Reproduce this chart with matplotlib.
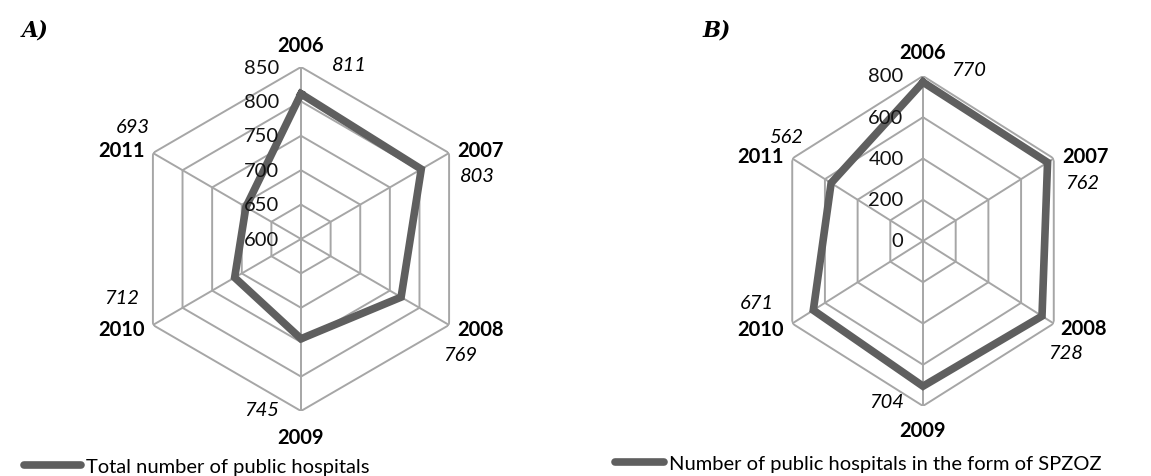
import numpy as np
import matplotlib.pyplot as plt
from matplotlib.lines import Line2D

# data
years = ['2006', '2007', '2008', '2009', '2010', '2011']
total = [811, 803, 769, 745, 712, 693]
spzoz = [770, 762, 728, 704, 671, 562]
ticks_a = [600, 650, 700, 750, 800, 850]
ticks_b = [0, 200, 400, 600, 800]

plt.rcParams['font.family'] = ['Lato', 'DejaVu Sans']

LINE = '#5f5f5f'
GRID = '#a6a6a6'
FS = 14.5

fig = plt.figure(figsize=(11.51, 4.77), dpi=100)

angles = np.deg2rad(np.arange(0, 360, 60))


def radar(rect, values, ticks, tick_dx, cat_off, val_off):
    ax = fig.add_axes(rect, projection='polar')
    ax.set_theta_zero_location('N')
    ax.set_theta_direction(-1)
    ax.set_rlim(ticks[0], ticks[-1])
    ax.grid(False)
    ax.spines['polar'].set_visible(False)
    ax.set_xticks([])
    ax.set_yticks([])
    ax.patch.set_alpha(0)
    ax.set_aspect('auto')
    closed = np.append(angles, angles[0])
    # hexagonal grid
    for t in ticks[1:]:
        ax.plot(closed, [t] * 7, color=GRID, lw=1.4, zorder=1)
    for a in angles:
        ax.plot([a, a], [ticks[0], ticks[-1]], color=GRID, lw=1.4, zorder=1)
    # series
    ax.plot(closed, list(values) + [values[0]], color=LINE, lw=5.5,
            solid_joinstyle='miter', zorder=3)
    # radial tick labels
    for t in ticks:
        ax.annotate(str(t), xy=(0, t), xytext=(tick_dx, 0), textcoords='offset points',
                    ha='right', va='center', fontsize=FS, color='#111111', zorder=4)
    # category + value labels
    for i, a in enumerate(angles):
        cx, cy, cha = cat_off[i]
        vx, vy, vha = val_off[i]
        ax.annotate(years[i], xy=(a, ticks[-1]), xytext=(cx, cy),
                    textcoords='offset points', ha=cha, va='center',
                    fontsize=FS, fontweight='bold', annotation_clip=False)
        ax.annotate(str(values[i]), xy=(a, ticks[-1]), xytext=(vx, vy),
                    textcoords='offset points', ha=vha, va='center',
                    fontsize=FS, fontstyle='italic', annotation_clip=False)
    return ax


# left chart (A)
radar([130 / 1151, 65 / 477, 342 / 1151, 344 / 477], total, ticks_a, -16,
      cat_off=[(0, 16, 'center'), (6, 2, 'left'), (6, -3, 'left'),
               (0, -19, 'center'), (-6, -3, 'right'), (-6, 2, 'right')],
      val_off=[(22, 2, 'left'), (8, -16, 'left'), (-4, -21, 'left'),
               (-16, 1, 'right'), (-10, 20, 'right'), (-2, 19, 'right')])

# right chart (B)
radar([772 / 1151, 70 / 477, 302 / 1151, 330 / 477], spzoz, ticks_b, -14,
      cat_off=[(0, 17, 'center'), (6, 2, 'left'), (5, -3, 'left'),
               (0, -17, 'center'), (-6, -4, 'right'), (-6, 2, 'right')],
      val_off=[(20, 5, 'left'), (8, -17, 'left'), (-4, -21, 'left'),
               (-14, 3, 'right'), (-13, 15, 'right'), (8, 16, 'right')])

fig.text(22 / 1151, 1 - 30 / 477, 'A)', family='DejaVu Serif', fontsize=15.5,
         fontweight='bold', fontstyle='italic', va='center')
fig.text(703 / 1151, 1 - 30 / 477, 'B)', family='DejaVu Serif', fontsize=15.5,
         fontweight='bold', fontstyle='italic', va='center')

h = Line2D([], [], color=LINE, lw=5.5, solid_capstyle='round')
fig.legend([h], ['Total number of public hospitals'], loc='center left',
           bbox_to_anchor=(24 / 1151, 1 - 467 / 477), frameon=False,
           handlelength=2.85, handletextpad=0.25, fontsize=FS, borderpad=0,
           borderaxespad=0)
fig.legend([h], ['Number of public hospitals in the form of SPZOZ'], loc='center left',
           bbox_to_anchor=(615 / 1151, 1 - 464 / 477), frameon=False,
           handlelength=2.45, handletextpad=0.25, fontsize=FS, borderpad=0,
           borderaxespad=0)

fig.savefig('out.png', dpi=100)
